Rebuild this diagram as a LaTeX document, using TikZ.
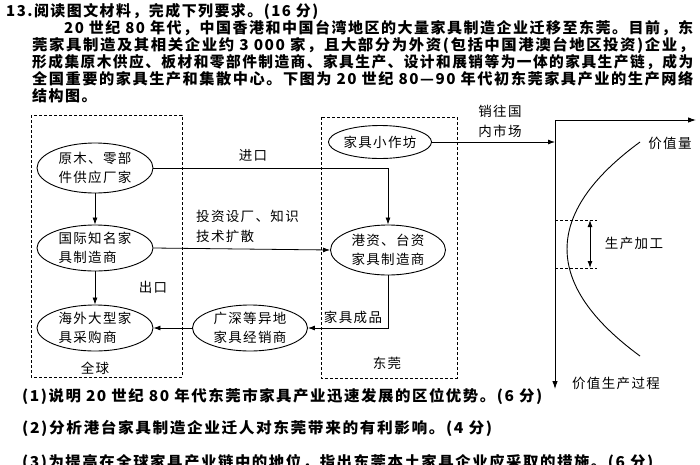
\documentclass[tikz,border=0pt]{standalone}
\usepackage{fontspec}
\usepackage{graphicx}
\usetikzlibrary{arrows.meta,shapes.geometric}
\newfontfamily\cjk[LetterSpace=10]{Noto Sans CJK SC}
\newcommand\fitline[2]{\resizebox{#1pt}{\height}{#2}}
\tikzset{
  px/.style={x=1pt,y=-1pt},
  ell/.style={draw,ellipse,line width=0.9pt,inner sep=0pt,align=left,font=\cjk\fontsize{13.5}{19}\selectfont},
  lbl/.style={inner sep=0pt,align=left,font=\cjk\fontsize{13.5}{20}\selectfont},
  para/.style={inner sep=0pt,anchor=west,font=\cjk\bfseries\fontsize{15}{17}\selectfont},
  region/.style={draw,line width=1pt,dash pattern=on 3pt off 2pt},
  conn/.style={line width=0.8pt,-{Latex[length=7pt,width=5pt]}},
  axis/.style={line width=0.9pt,-{Latex[length=8pt,width=5.5pt]}},
  guide/.style={line width=0.7pt,dash pattern=on 3pt off 2pt},
}
\begin{document}
\begin{tikzpicture}[px]
\useasboundingbox (0,0) rectangle (700,464);
\fill[white] (0,0) rectangle (700,464);
% passage
\node[para] (p1) at (6,11) {\fitline{312}{13.阅读图文材料，完成下列要求。(16 分)}};
\node[para] (p2) at (64,28) {\fitline{629}{20 世纪 80 年代，中国香港和中国台湾地区的大量家具制造企业迁移至东莞。目前，东}};
\node[para] (p3) at (32,45) {\fitline{662}{莞家具制造及其相关企业约 3 000 家，且大部分为外资(包括中国港澳台地区投资)企业，}};
\node[para] (p4) at (32,62) {\fitline{661}{形成集原木供应、板材和零部件制造商、家具生产、设计和展销等为一体的家具生产链，成为}};
\node[para] (p5) at (32,79) {\fitline{661}{全国重要的家具生产和集散中心。下图为 20 世纪 80—90 年代初东莞家具产业的生产网络}};
\node[para] (p6) at (32,96) {结构图。};
% regions
\draw[region] (31,115) rectangle (182,377);
\draw[region] (321,117) rectangle (457,378);
% nodes
\node[ell,minimum width=116pt,minimum height=50pt] (A) at (95,168) {原木、零部\\件供应厂家};
\node[ell,minimum width=116pt,minimum height=46pt] (B) at (95,248) {国际知名家\\具制造商};
\node[ell,minimum width=116pt,minimum height=46pt] (C) at (95,328) {海外大型家\\具采购商};
\node[ell,minimum width=115pt,minimum height=46pt] (D) at (250,328) {广深等异地\\家具经销商};
\node[ell,minimum width=115pt,minimum height=50pt] (E) at (388,250) {港资、台资\\家具制造商};
\node[ell,minimum width=97pt,minimum height=33pt] (F) at (380,142) {家具小作坊};
% labels
\node[lbl] (l1) at (253,155) {进口};
\node[lbl,anchor=west] (l2) at (196,226) {投资设厂、知识\\技术扩散};
\node[lbl] (l3) at (153,287) {出口};
\node[lbl] (l4) at (95,368) {全球};
\node[lbl] (l5) at (353,317) {家具成品};
\node[lbl] (l6) at (387,363) {东莞};
\node[lbl,align=center] (l7) at (500,121) {销往国\\内市场};
% connectors
\draw[conn] (A.east) -| (E.north);
\draw[conn] (B.east) -- (E.west);
\draw[conn] (A.south) -- (B.north);
\draw[conn] (B.south) -- (C.north);
\draw[conn] (D.west) -- (C.east);
\draw[conn] (E.south) |- (D.east);
% value chart
\coordinate (O) at (555,120);
\coordinate (Xe) at (696,120);
\coordinate (Ye) at (555,389);
\draw[axis] (O) -- (Xe);
\draw[axis] (O) -- (Ye);
\draw[conn] (F.east) -- (F.east -| O);
\draw[line width=0.9pt] (640,142) .. controls (542.7,213.3) and (542.7,284.7) .. (640,356);
\coordinate (g1) at (555,220);
\coordinate (g2) at (597,220);
\coordinate (g3) at (555,268);
\coordinate (g4) at (597,268);
\draw[guide] (g1) -- (g2);
\draw[guide] (g3) -- (g4);
\coordinate (d1) at (590,220);
\coordinate (d2) at (590,268);
\draw[line width=0.9pt,{Latex[length=7pt,width=5pt]}-{Latex[length=7pt,width=5pt]}] (d1) -- (d2);
\node[lbl] (v1) at (670,143) {价值量};
\node[lbl] (v2) at (634,243) {生产加工};
\node[lbl] (v3) at (616,383) {价值生产过程};
% questions
\node[para] (q1) at (22,396) {\fitline{520}{(1)说明 20 世纪 80 年代东莞市家具产业迅速发展的区位优势。(6 分)}};
\node[para] (q2) at (22,428) {\fitline{470}{(2)分析港台家具制造企业迁人对东莞带来的有利影响。(4 分)}};
\node[para] (q3) at (22,462) {\fitline{631}{(3)为提高在全球家具产业链中的地位，指出东莞本土家具企业应采取的措施。(6 分)}};
\end{tikzpicture}
\end{document}
